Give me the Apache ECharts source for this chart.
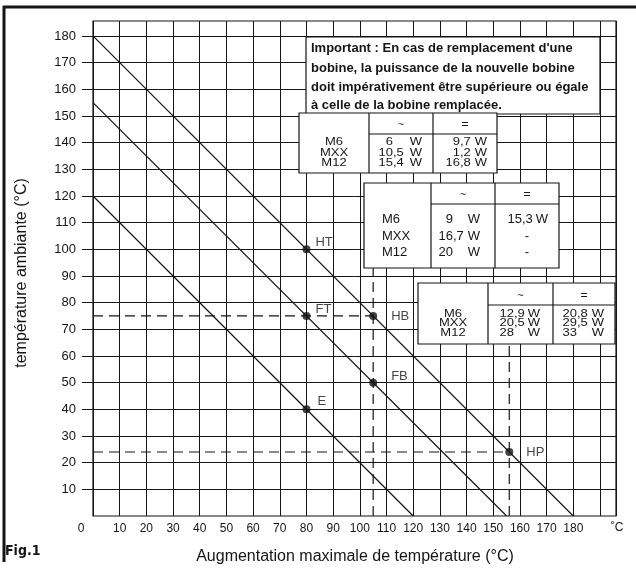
<!DOCTYPE html>
<html><head><meta charset="utf-8">
<script src="https://cdn.jsdelivr.net/npm/echarts@6/dist/echarts.min.js"></script>
<style>html,body{margin:0;padding:0;background:#fff}#c{width:636px;height:573px}</style>
</head><body><div id="c"></div>
<script>
// ---- data ----
const xTicks = [10,20,30,40,50,60,70,80,90,100,110,120,130,140,150,160,170,180];
const yTicks = [10,20,30,40,50,60,70,80,90,100,110,120,130,140,150,160,170,180];
const lineH = [[0,180],[180,0]];
const lineF = [[0,155],[155,0]];
const lineE = [[0,120],[120,0]];
const dashFT = [[0,75],[105,75]];
const dashHB = [[105,0],[105,93]];
const dashHP = [[0,24],[156,24]];
const dashHPv = [[156,0],[156,64]];
const pointNames = ['HT','FT','HB','FB','E','HP'];
const pointX = [80,80,105,105,80,156];
const pointY = [100,75,75,50,40,24];
const noteLines = ["Important : En cas de remplacement d'une","bobine, la puissance de la nouvelle bobine","doit impérativement être supérieure ou égale","à celle de la bobine remplacée."];
const models = ['M6','MXX','M12'];
const headAC = '~', headDC = '=';
const t1AC = ['6','10,5','15,4'], t1DC = ['9,7','1,2','16,8'];
const t2AC = ['9','16,7','20'], t2DC = ['15,3','-','-'];
const t3AC = ['12,9','20,5','28'], t3DC = ['20,8','29,5','33'];

// ---- styles ----
const FF = "'Liberation Sans', Arial, Helvetica, sans-serif";
const INK = '#151515';
const labelOffsets = {HT:[0,-7], FT:[0,-7], HB:[9,0], FB:[9,-6], E:[2,-8], HP:[8,0]};

function txt(x,y,t,opt){
  opt = opt||{};
  return {type:'text', x:x, y:y, z:60, scaleY: opt.sy||1, rotation: opt.rot||0,
    style:{text:t, fill:INK, font:(opt.bold?'bold ':'')+(opt.fs||13)+'px '+(opt.ff||FF),
      align:opt.align||'left', verticalAlign:'middle'}};
}
function ln(x1,y1,x2,y2,w){
  return {type:'line', z:58, shape:{x1:x1,y1:y1,x2:x2,y2:y2}, style:{stroke:INK, lineWidth:w||1}};
}
function num(arr, intRight, wRight, rowsY, dashX, fs, sy){
  const out = [];
  arr.forEach((s,i)=>{
    const y = rowsY[i];
    if (s === '-') { out.push(txt(dashX, y, '-', {align:'center', fs:fs, sy:sy})); return; }
    const p = s.split(',');
    out.push(txt(intRight, y, p[0], {align:'right', fs:fs, sy:sy}));
    if (p.length > 1) out.push(txt(intRight, y, ','+p[1], {align:'left', fs:fs, sy:sy}));
    out.push(txt(wRight, y, 'W', {align:'right', fs:fs, sy:sy}));
  });
  return out;
}
function table(b, c1, c2, hy, headY, rowsY, modelX, modelAlign, ac, dc, acInt, acW, dcInt, dcW, dashX, fs, sy){
  const g = [];
  g.push({type:'rect', z:57, shape:{x:b[0], y:b[1], width:b[2]-b[0], height:b[3]-b[1]}, style:{fill:'#fff', stroke:INK, lineWidth:1.2}});
  g.push(ln(c1,b[1],c1,b[3],1.2), ln(c2,b[1],c2,b[3],1.2), ln(c1,hy,b[2],hy,1.2));
  g.push(txt((c1+c2)/2, headY, headAC, {align:'center', fs:11}));
  g.push(txt((c2+b[2])/2, headY, headDC, {align:'center', fs:12}));
  models.forEach((m,i)=> g.push(txt(modelX, rowsY[i], m, {align:modelAlign, fs:fs, sy:sy})));
  return g.concat(num(ac, acInt, acW, rowsY, (c1+c2)/2, fs, sy), num(dc, dcInt, dcW, rowsY, dashX, fs, sy));
}

let graphics = [];
// outer frame
graphics.push(ln(3,7,636,7,3), ln(4,6,4,562,3));
// note box
graphics.push({type:'rect', z:57, shape:{x:306, y:37, width:294, height:77}, style:{fill:'#fff', stroke:INK, lineWidth:1.2}});
[48,68,87,105].forEach((y,i)=> graphics.push(txt(311, y, noteLines[i], {bold:true, fs:13})));
// tables
graphics = graphics.concat(
  table([299,113,497,173], 369, 433, 134, 125, [142,153,163.5], 334, 'center', t1AC, t1DC, 393, 422, 460, 487, 465, 13, 0.82),
  table([364,183,559,268], 431, 495, 204, 195, [219,236,252], 382, 'left', t2AC, t2DC, 453, 480, 522, 548, 527, 13, 1),
  table([418,283,615,344], 488, 553, 305, 296, [314,323.5,333], 453, 'center', t3AC, t3DC, 514, 540, 577, 604, 584, 13, 0.8)
);
// extra texts
graphics.push(txt(81, 529, '0', {align:'center', fs:12}));
graphics.push(txt(617, 528, '˚C', {align:'center', fs:12}));
graphics.push(txt(355, 557, 'Augmentation maximale de température (°C)', {align:'center', fs:16}));
graphics.push(txt(22, 273, 'température ambiante (°C)', {align:'center', fs:16, rot:Math.PI/2}));
graphics.push(txt(5, 551, 'Fig.1', {bold:true, fs:14, ff:"'Liberation Sans Narrow','DejaVu Sans Condensed', Arial"}));

const lineSeries = (d, dashed) => ({type:'line', data:d, symbol:'none', silent:true, z:3,
  lineStyle:{color:INK, width:1.2, type: dashed?[10,6]:'solid'}});

const scatterData = pointNames.map((n,i)=>({name:n, value:[pointX[i], pointY[i]],
  label:{offset:labelOffsets[n]}}));

const chart = echarts.init(document.getElementById('c'), null, {renderer:'canvas'});
chart.setOption({
  animation:false,
  backgroundColor:'#fff',
  grid:{left:93, right:20, top:21, bottom:57, show:true, borderColor:INK, borderWidth:1.2, backgroundColor:'transparent'},
  xAxis:{type:'value', min:0, max:196, interval:10,
    axisLine:{show:false}, axisTick:{show:false},
    splitLine:{show:true, lineStyle:{color:INK, width:1}},
    axisLabel:{customValues:xTicks, margin:7, fontSize:12, color:INK, fontFamily:FF}},
  yAxis:{type:'value', min:0, max:185.6, interval:10,
    axisLine:{show:false},
    axisTick:{show:true, customValues:yTicks, length:11, lineStyle:{color:INK, width:1}},
    splitLine:{show:true, lineStyle:{color:INK, width:1}},
    axisLabel:{customValues:yTicks, margin:17, fontSize:13, color:INK, fontFamily:FF}},
  series:[
    lineSeries(lineH), lineSeries(lineF), lineSeries(lineE),
    lineSeries(dashFT,true), lineSeries(dashHB,true), lineSeries(dashHP,true), lineSeries(dashHPv,true),
    {type:'scatter', data:scatterData, symbolSize:8, z:4, itemStyle:{color:INK},
      label:{show:true, position:'right', formatter:'{b}', fontSize:13, color:INK, fontFamily:FF}}
  ],
  graphic:{elements:graphics}
});
</script></body></html>
